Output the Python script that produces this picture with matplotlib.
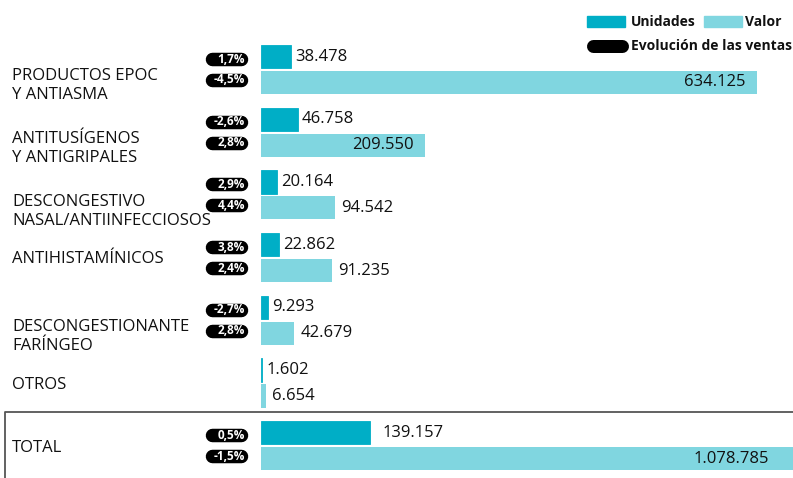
import matplotlib
matplotlib.use("Agg")
import matplotlib.pyplot as plt
import matplotlib.transforms as mtransforms
from matplotlib.patches import Rectangle

categories = ["PRODUCTOS EPOC\nY ANTIASMA", "ANTITUSÍGENOS\nY ANTIGRIPALES",
              "DESCONGESTIVO\nNASAL/ANTIINFECCIOSOS", "ANTIHISTAMÍNICOS",
              "DESCONGESTIONANTE\nFARÍNGEO", "OTROS", "TOTAL"]
unidades = [38478, 46758, 20164, 22862, 9293, 1602, 139157]
valor = [634125, 209550, 94542, 91235, 42679, 6654, 1078785]
evol_unidades = ["1,7%", "-2,6%", "2,9%", "3,8%", "-2,7%", None, "0,5%"]
evol_valor = ["-4,5%", "2,8%", "4,4%", "2,4%", "2,8%", None, "-1,5%"]

def fmt(v):
    return f"{v:,}".replace(",", ".")

C_UNI = "#00AEC6"
C_VAL = "#80D6E0"
FONT = "Open Sans"
plt.rcParams['font.family'] = [FONT, 'DejaVu Sans']

W, H = 793, 478
fig = plt.figure(figsize=(W / 100, H / 100), dpi=100)
bg = fig.add_axes([0, 0, 1, 1])
bg.set_xlim(0, W)
bg.set_ylim(H, 0)
bg.axis("off")

x0px = 261
scale = 0.000782  # px per unit
ax = fig.add_axes([x0px / W, 0, (W - x0px) / W, 1])
ax.patch.set_visible(False)
ax.axis("off")
gap = 62.7
c0 = 69.5
ax.set_ylim((H - c0) / gap, -c0 / gap)
xmax = (W - x0px) / scale
ax.set_xlim(0, xmax)

n = len(categories)
pos = list(range(n))
bh = 0.37
off = 0.207
ax.barh([p - off for p in pos], unidades, height=bh, color=C_UNI, linewidth=0.6, edgecolor=C_UNI)
ax.barh([p + off for p in pos], valor, height=bh, color=C_VAL)

px2pt = 0.72
for i, (p, u, v) in enumerate(zip(pos, unidades, valor)):
    du = 13 if i == n - 1 else 4
    ax.annotate(fmt(u), (u, p - off), xytext=(du * px2pt, 0), textcoords="offset points",
                va="center", ha="left", fontsize=12, color="#111")
    if v > 150000:
        xe = min(v, xmax)
        dx = -11 if v <= xmax else -24
        ax.annotate(fmt(v), (xe, p + off), xytext=(dx * px2pt, 0), textcoords="offset points",
                    va="center", ha="right", fontsize=12, color="#111")
    else:
        ax.annotate(fmt(v), (v, p + off), xytext=(6 * px2pt, 0), textcoords="offset points",
                    va="center", ha="left", fontsize=12, color="#111")

blend = mtransforms.blended_transform_factory(bg.transData, ax.transData)

# category labels
for p, c in zip(pos, categories):
    y = p + (0.26 if "\n" in c else 0.03)
    bg.text(12, y, c, transform=blend, ha="left", va="center", fontsize=12,
            color="#111", linespacing=1.25)

# pills
poff = 0.167
for p, eu, ev in zip(pos, evol_unidades, evol_valor):
    for lab, yy in ((eu, p - poff), (ev, p + poff)):
        if lab is None:
            continue
        bg.plot([212, 241], [yy, yy], transform=blend, color="black", lw=13.5 * px2pt,
                solid_capstyle="round")
        bg.text(245, yy, lab, transform=blend, ha="right", va="center", fontsize=8.5,
                fontweight="bold", color="white")

# total frame
bg.plot([5, 5, W], [H, 412, 412], color="#555", lw=1.3, solid_capstyle="butt")

# legend
bg.add_patch(Rectangle((587, 16), 38, 11, color=C_UNI))
bg.text(631, 21.5, "Unidades", ha="left", va="center", fontsize=10, fontweight="bold", color="#111")
bg.add_patch(Rectangle((704, 16), 38, 11, color=C_VAL))
bg.text(745, 21.5, "Valor", ha="left", va="center", fontsize=10, fontweight="bold", color="#111")
bg.plot([593, 622], [45.5, 45.5], color="black", lw=13 * px2pt, solid_capstyle="round")
bg.text(631, 45.5, "Evolución de las ventas", ha="left", va="center", fontsize=10,
        fontweight="bold", color="#111")

fig.savefig("out.png", dpi=100)
